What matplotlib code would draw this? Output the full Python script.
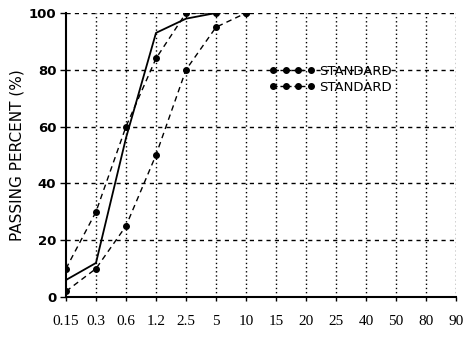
import matplotlib
matplotlib.use("Agg")
import matplotlib.pyplot as plt
from matplotlib.lines import Line2D

# sieve sizes (categorical axis) and passing percent
sizes = ["0.15", "0.3", "0.6", "1.2", "2.5", "5", "10", "15", "20", "25", "40", "50", "80", "90"]
measured = [6, 12, 56, 93, 98, 100]
upper = [10, 30, 60, 84, 100, 100, 100]
lower = [2, 10, 25, 50, 80, 95, 100]

x = list(range(len(sizes)))

fig = plt.figure(figsize=(4.63, 3.57), dpi=100)
ax = fig.add_axes([0.1425, 0.168, 0.8425, 0.7956])

ax.plot(x[:len(measured)], measured, color="black", lw=1.3, ls="-")
ax.plot(x[:len(upper)], upper, color="black", lw=1.0, ls=(0, (4, 3)),
        marker="o", ms=4)
ax.plot(x[:len(lower)], lower, color="black", lw=1.0, ls=(0, (4, 3)),
        marker="o", ms=4)

ax.set_xlim(0, len(sizes) - 1)
ax.set_ylim(0, 100)
ax.set_xticks(x)
ax.set_xticklabels(sizes, fontfamily="Liberation Serif", fontsize=11)
ax.set_yticks([0, 20, 40, 60, 80, 100])
ax.set_yticklabels(["0", "20", "40", "60", "80", "100"], fontweight="bold", fontsize=9.5)
ax.set_ylabel("PASSING PERCENT (%)", fontsize=11, labelpad=3)

for y in [20, 40, 60, 80, 100]:
    ax.axhline(y, color="black", lw=1.0, ls=(0, (3, 3)), zorder=0)
for xi in x[1:]:
    ax.axvline(xi, color="black", lw=1.0, ls=(0, (1, 2)), zorder=0)

ax.spines["top"].set_visible(False)
ax.spines["right"].set_visible(False)
ax.spines["left"].set_linewidth(1.5)
ax.spines["bottom"].set_linewidth(1.5)
ax.tick_params(axis="y", direction="out", length=4, width=1, pad=3)
ax.tick_params(axis="x", direction="out", length=3, width=1, pad=10)

h1 = Line2D([], [], color="black", lw=1.0, ls=(0, (3, 2)), marker="o", ms=4)
h2 = Line2D([], [], color="black", lw=1.0, ls=(0, (3, 2)), marker="o", ms=4)
leg = ax.legend([h1, h2], ["STANDARD", "STANDARD"], loc="upper left",
                bbox_to_anchor=(0.49, 0.86), frameon=False, numpoints=4,
                handlelength=3.5, handletextpad=0.3, labelspacing=0.25,
                fontsize=9.5)

fig.savefig("out.png", dpi=100)
